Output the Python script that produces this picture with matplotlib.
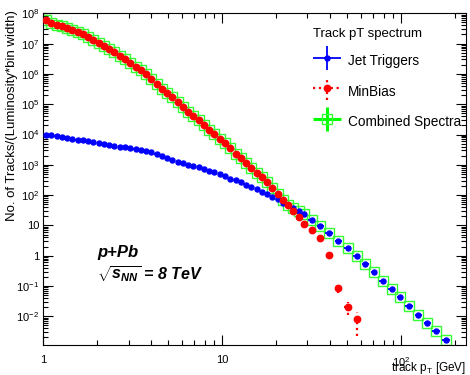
import numpy as np
import matplotlib
matplotlib.use("Agg")
import matplotlib.pyplot as plt
from matplotlib.ticker import FixedLocator, LogLocator, FuncFormatter, NullFormatter
from matplotlib.container import ErrorbarContainer
from matplotlib.legend_handler import HandlerErrorbar

plt.rcParams['font.family'] = ['Liberation Sans', 'DejaVu Sans']
plt.rcParams['mathtext.fontset'] = 'custom'
plt.rcParams['mathtext.rm'] = 'Liberation Sans'
plt.rcParams['mathtext.it'] = 'Liberation Sans:italic:bold'
plt.rcParams['mathtext.bf'] = 'Liberation Sans:bold'

# bin centres (GeV)
pt = [1.035, 1.108, 1.186, 1.269, 1.358, 1.453, 1.555, 1.664, 1.781, 1.906,
      2.039, 2.182, 2.335, 2.499, 2.675, 2.862, 3.063, 3.278, 3.508, 3.754,
      4.017, 4.299, 4.600, 4.923, 5.268, 5.638, 6.033, 6.456, 6.909, 7.394,
      7.912, 8.467, 9.061, 9.697, 10.38, 11.11, 11.88, 12.72, 13.61, 14.56,
      15.59, 16.68, 17.85, 19.10, 20.44, 21.88, 23.41, 25.05, 26.81, 28.69,
      31.62, 35.41, 39.61, 44.64, 50.24, 56.56, 63.18, 70.67, 79.02, 88.73,
      98.72, 110.8, 124.9, 140.3, 156.9, 177.7]

# Jet Triggers
jet = [9640, 9490, 8920, 8260, 7650, 7090, 6780, 6440, 5970, 5530,
       5240, 5010, 4640, 4300, 3990, 3780, 3580, 3320, 3010, 2790,
       2560, 2280, 1990, 1730, 1450, 1260, 1150, 1020, 912, 846,
       710, 610, 565, 497, 427, 351, 308, 271, 222, 192,
       158, 127, 106, 86.5, 72.6, 56.5, 46.0, 37.5, 29.9, 23.2,
       15.1, 9.55, 5.57, 3.03, 1.74, 0.977, 0.548, 0.290, 0.146, 0.0796,
       0.0434, 0.0225, 0.0114, 0.00601, 0.00320, 0.00161]

# MinBias
minbias = [5.8e7, 4.95e7, 4.25e7, 3.68e7, 3.2e7, 2.8e7, 2.4e7, 2.0e7, 1.62e7, 1.3e7,
           1.07e7, 8.6e6, 6.8e6, 5.2e6, 3.95e6, 3.0e6, 2.25e6, 1.72e6, 1.32e6, 9.7e5,
           6.9e5, 4.7e5, 3.3e5, 2.4e5, 1.72e5, 1.18e5, 8.0e4, 5.7e4, 4.2e4, 3.0e4,
           2.08e4, 1.42e4, 1.03e4, 7.3e3, 5.2e3, 3.55e3, 2.3e3, 1.65e3, 1.15e3, 810,
           550, 390, 262, 170, 110, 71, 47, 31, 19, 11.5,
           6.9, 3.75, 1.03, 0.086, 0.0203, 0.008]
minbias_err = [0] * 52 + [0.1, 0.025, 0.009, 0.0057]

# Combined spectra: MinBias below the switch bin, Jet Triggers above
n_switch = 46
combined = minbias[:n_switch] + jet[n_switch:]

x = np.array(pt)
dlog = np.gradient(np.log10(x))


def xerr_for(n, frac):
    xx = x[:n]
    d = dlog[:n] * frac
    return [xx - xx / 10**d, xx * 10**d - xx]


fig = plt.figure(figsize=(4.7, 3.75), dpi=100)
ax = fig.add_axes([0.0921, 0.08, 0.8987, 0.8845])

zeros = np.zeros(len(pt))
green = ax.errorbar(x, combined, xerr=zeros, yerr=zeros, fmt='s', ms=7.5,
                    mfc='none', mec='#33ff33', mew=1.0,
                    ecolor='#00ff00', elinewidth=2.2, zorder=2)
blue = ax.errorbar(x, jet, xerr=xerr_for(len(pt), 0.4), yerr=zeros, fmt='o',
                   ms=3.6, color='blue', ecolor='blue', elinewidth=1.3, zorder=3)
red = ax.errorbar(x[:len(minbias)], minbias, xerr=xerr_for(len(minbias), 0.35),
                  yerr=minbias_err, fmt='o', ms=4.6, color='red', ecolor='red',
                  elinewidth=1.6, zorder=4)
for coll in red[2]:
    coll.set_linestyle(':')

ax.set_xscale('log')
ax.set_yscale('log')
ax.set_xlim(1, 230)
ax.set_ylim(1.13e-3, 1e8)


def log_label(v, pos):
    e = int(round(np.log10(v)))
    if e == 0:
        return '1'
    if e == 1:
        return '10'
    return r'$10^{%d}$' % e


ax.xaxis.set_major_locator(FixedLocator([1, 10, 100]))
ax.xaxis.set_minor_locator(LogLocator(base=10, subs=np.arange(2, 10), numticks=30))
ax.yaxis.set_major_locator(FixedLocator([10.0**k for k in range(-2, 9)]))
ax.yaxis.set_minor_locator(LogLocator(base=10, subs=np.arange(2, 10), numticks=30))
ax.xaxis.set_major_formatter(FuncFormatter(log_label))
ax.yaxis.set_major_formatter(FuncFormatter(log_label))
ax.xaxis.set_minor_formatter(NullFormatter())
ax.yaxis.set_minor_formatter(NullFormatter())

ax.tick_params(which='both', direction='in', top=True, right=True, width=0.8,
               labelsize=8)
ax.tick_params(which='major', length=7)
ax.tick_params(which='minor', length=3.6)
ax.tick_params(axis='x', pad=7)
ax.tick_params(axis='y', pad=3)
for s in ax.spines.values():
    s.set_linewidth(0.8)

ax.set_xlabel(r'track $\mathrm{p_T}$ [GeV]', fontsize=8.5, ha='right')
ax.xaxis.set_label_coords(1.0, -0.045)
ax.set_ylabel('No. of Tracks/(Luminosity*bin width)', fontsize=9.5, ha='right')
ax.yaxis.set_label_coords(-0.06, 1.01)

ax.text(0.127, 0.28, 'p+Pb', transform=ax.transAxes, fontsize=12,
        fontweight='bold', fontstyle='italic', va='center', ha='left')
ax.text(0.127, 0.215, r'$\sqrt{s_{NN}}$ = 8 TeV', transform=ax.transAxes,
        fontsize=11.5, fontweight='bold', fontstyle='italic', va='center', ha='left')

leg = ax.legend([blue, red, green], ['Jet Triggers', 'MinBias', 'Combined Spectra'],
                title='Track pT spectrum', loc='upper left',
                bbox_to_anchor=(0.6385, 0.956), frameon=False, fontsize=9.8,
                title_fontsize=9.5, alignment='left', handlelength=2.05,
                handletextpad=0.5, labelspacing=0.82, handleheight=1.8,
                borderpad=0, borderaxespad=0,
                handler_map={ErrorbarContainer: HandlerErrorbar(xerr_size=1.03, yerr_size=0.88)})

fig.savefig('out.png', dpi=100)
